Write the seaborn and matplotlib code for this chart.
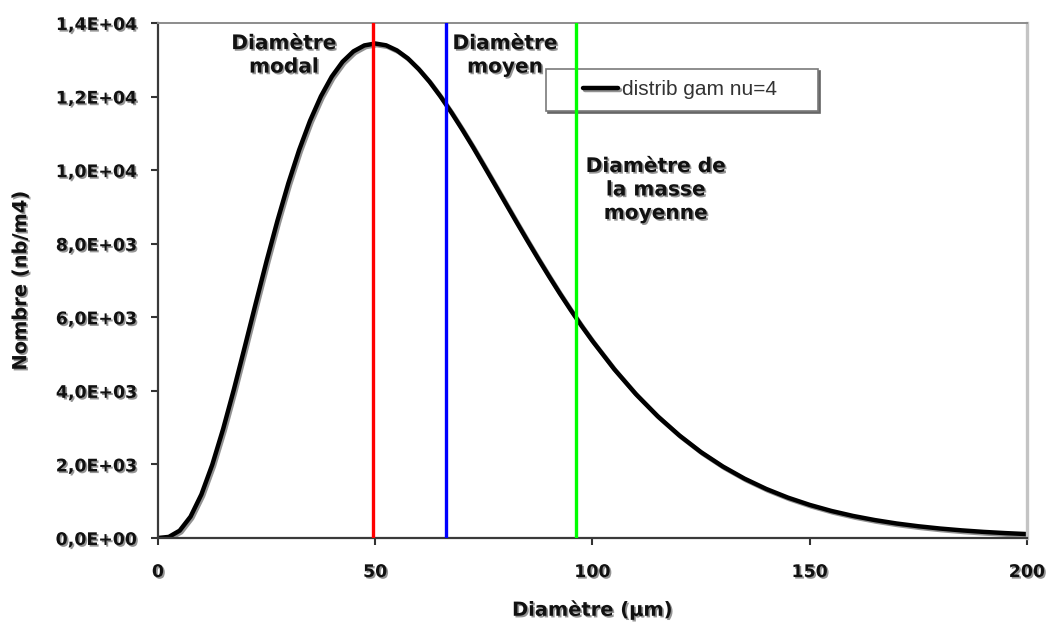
import matplotlib
matplotlib.use("Agg")
import matplotlib.pyplot as plt
import matplotlib.patheffects as pe
from matplotlib.legend_handler import HandlerLine2D
import pandas as pd
import seaborn as sns

# diamètre (µm) et nombre (nb/m4)
diametre = [0, 2.5, 5, 7.5, 10, 12.5, 15, 17.5, 20, 22.5, 25, 27.5, 30, 32.5,
            35, 37.5, 40, 42.5, 45, 47.5, 50, 52.5, 55, 57.5, 60, 62.5, 65,
            67.5, 70, 72.5, 75, 77.5, 80, 82.5, 85, 87.5, 90, 92.5, 95, 97.5,
            100, 105, 110, 115, 120, 125, 130, 135, 140, 145, 150,
            155, 160, 165, 170, 175, 180, 185, 190, 195, 200]
nombre = [0, 29, 200, 581, 1185, 1993, 2964, 4050, 5205, 6377, 7530, 8625,
          9640, 10550, 11341, 12006, 12541, 12947, 13229, 13390, 13442, 13393,
          13254, 13038, 12747, 12403, 12006, 11573, 11110, 10627, 10123, 9614,
          9101, 8591, 8088, 7594, 7113, 6645, 6197, 5765,
          5355, 4591, 3910, 3311, 2788, 2333, 1944, 1613, 1333, 1097, 900,
          735, 599, 487, 394, 319, 257, 207, 166, 133, 106]

# diamètres caractéristiques (lignes verticales)
diam_noms = ["modal", "moyen", "masse moyenne"]
diam_vals = [49.6, 66.4, 96.1]
diam_couleurs = ["#ff0000", "#0000ff", "#00ff00"]

x_ticks = [0, 50, 100, 150, 200]
y_ticks = [0, 2000, 4000, 6000, 8000, 10000, 12000, 14000]
y_tick_labels = ["0,0E+00", "2,0E+03", "4,0E+03", "6,0E+03", "8,0E+03",
                 "1,0E+04", "1,2E+04", "1,4E+04"]

sns.set_theme(style="white")
plt.rcParams["font.family"] = ["DejaVu Sans"]

df = pd.DataFrame({"Diametre": diametre, "Nombre": nombre})

fig = plt.figure(figsize=(10.51, 6.26), dpi=100)
ax = fig.add_axes([0.1503, 0.1406, 0.8268, 0.8227])

ombre_txt = [pe.withSimplePatchShadow(offset=(1.2, -1.2), shadow_rgbFace="#8a8a8a", alpha=0.9)]

sns.lineplot(data=df, x="Diametre", y="Nombre", ax=ax, color="black", lw=3.2,
             label="distrib gam nu=4",
             path_effects=[pe.SimpleLineShadow(offset=(1.2, -1.2), shadow_color="#777777", alpha=0.8),
                           pe.Normal()])

for v, c in zip(diam_vals, diam_couleurs):
    ax.axvline(v, color=c, lw=2.4, zorder=6)

ax.set_xlim(0, 200)
ax.set_ylim(0, 14000)
ax.set_xticks(x_ticks)
ax.set_yticks(y_ticks)
ax.set_yticklabels(y_tick_labels)

for lab in ax.get_xticklabels() + ax.get_yticklabels():
    lab.set_fontweight("bold")
    lab.set_fontsize(12.5)
    lab.set_color("#111111")
    lab.set_path_effects(ombre_txt)

ax.tick_params(axis="y", direction="out", length=5, width=1.5, color="#333333", pad=10, left=True)
ax.tick_params(axis="x", direction="out", length=5, width=1.5, color="#333333", pad=13, bottom=True)

for s in ["left", "bottom"]:
    ax.spines[s].set_color("#3a3a3a")
    ax.spines[s].set_linewidth(1.6)
ax.spines["top"].set_color("#8c8c8c")
ax.spines["top"].set_linewidth(1.4)
ax.spines["right"].set_color("#c4c4c4")
ax.spines["right"].set_linewidth(2.4)

ax.set_xlabel("Diamètre (µm)", fontsize=14, fontweight="bold", color="#111111",
              path_effects=ombre_txt)
ax.set_ylabel("Nombre (nb/m4)", fontsize=14, fontweight="bold", color="#111111",
              path_effects=ombre_txt)
ax.xaxis.set_label_coords(0.5, -0.12)
ax.yaxis.set_label_coords(-0.147, 0.5)

annot = dict(fontsize=14.5, fontweight="bold", color="#111111", ha="center",
             va="center", linespacing=1.3, path_effects=ombre_txt, zorder=7)
ax.text(29.0, 13120, "Diamètre\nmodal", **annot)
ax.text(79.9, 13120, "Diamètre\nmoyen", **annot)
ax.text(114.6, 9460, "Diamètre de\nla masse\nmoyenne", **annot)

leg = ax.legend(loc="upper left", bbox_to_anchor=(0.4465, 0.0, 0.313, 0.9107),
                mode="expand", borderaxespad=0, borderpad=0.55,
                handlelength=2.9, handletextpad=0.2,
                handler_map={matplotlib.lines.Line2D: HandlerLine2D(xpad=1.22)},
                prop={"family": "Liberation Sans", "size": 15},
                labelcolor="#333333", fancybox=False, framealpha=1,
                edgecolor="#7a7a7a", shadow={"color": "#666666", "alpha": 1, "ox": 1.5, "oy": -1.5})
leg.get_frame().set_linewidth(1.2)
leg.set_zorder(5)

fig.savefig("out.png", dpi=100)
